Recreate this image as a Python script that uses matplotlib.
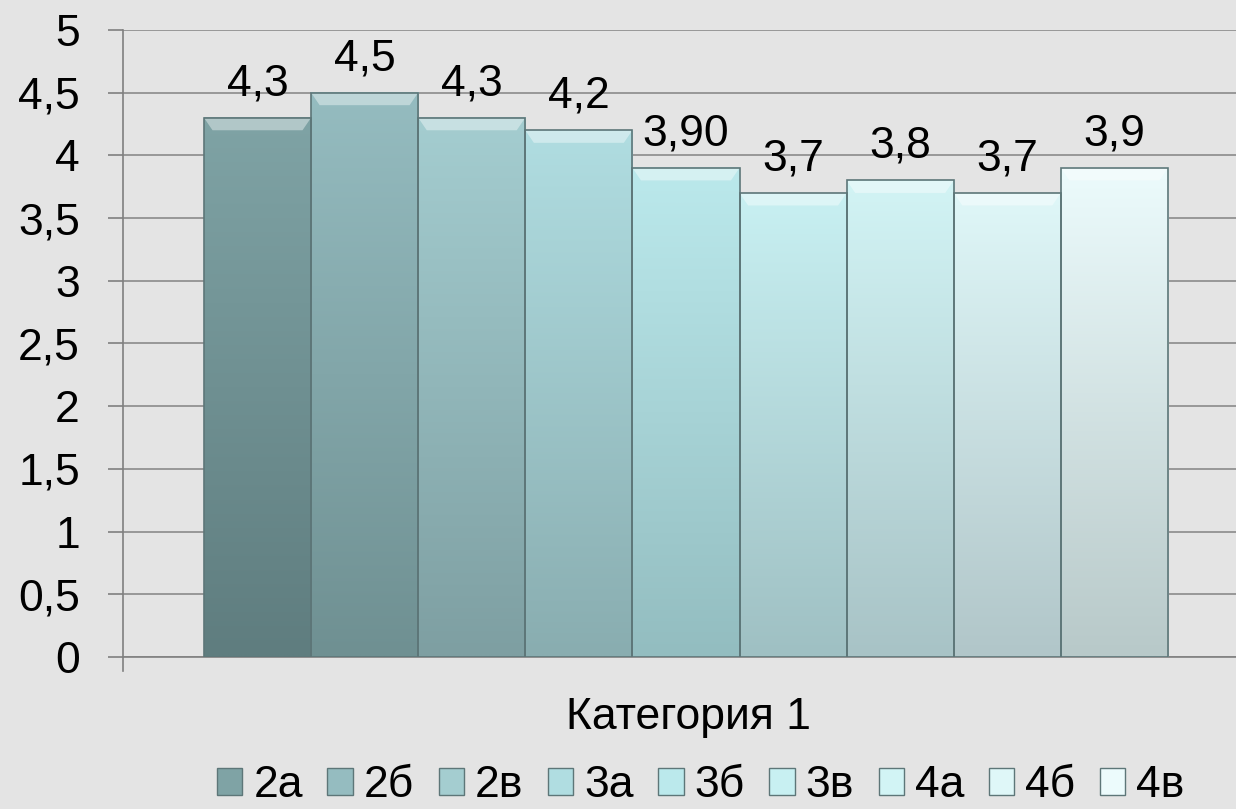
import numpy as np
import matplotlib.pyplot as plt
from matplotlib.patches import Patch
from matplotlib.colors import to_rgb

plt.rcParams['font.family'] = ['Liberation Sans', 'DejaVu Sans']

# data
classes = ['2а', '2б', '2в', '3а', '3б', '3в', '4а', '4б', '4в']
scores = [4.3, 4.5, 4.3, 4.2, 3.9, 3.7, 3.8, 3.7, 3.9]
score_labels = ['4,3', '4,5', '4,3', '4,2', '3,90', '3,7', '3,8', '3,7', '3,9']
yticks = [0, 0.5, 1, 1.5, 2, 2.5, 3, 3.5, 4, 4.5, 5]
ytick_labels = ['0', '0,5', '1', '1,5', '2', '2,5', '3', '3,5', '4', '4,5', '5']
category = 'Категория 1'

# bar colours, top and bottom of the gradient
top_cols = ['#7fa3a5', '#95bcc0', '#a4cdd0', '#b0dde1', '#bbe9ec',
            '#c8f0f2', '#d2f4f5', '#dff7f8', '#ecfbfc']
bot_cols = ['#5f7d7f', '#6f9092', '#7e9fa2', '#89adb0', '#93bdc0',
            '#9fc0c3', '#a8c3c6', '#b1c6c9', '#b8c9c9']

bg = '#e4e4e4'
fs = 32
fig = plt.figure(figsize=(12.36, 8.09), dpi=100, facecolor=bg)
ax = fig.add_axes([0.0995, 0.188, 0.9005, 0.775])
ax.set_facecolor(bg)

x = np.arange(len(classes))
for i, v in enumerate(scores):
    t = np.array(to_rgb(top_cols[i]))
    b = np.array(to_rgb(bot_cols[i]))
    f = np.linspace(0, 1, 100)[:, None]
    grad = (t * (1 - f) + b * f)[:, None, :]
    ax.imshow(grad, extent=[x[i] - 0.5, x[i] + 0.5, 0, v], aspect='auto',
              zorder=3, interpolation='bilinear')
    # light bevel at the top
    ax.fill([x[i] - 0.5, x[i] + 0.5, x[i] + 0.42, x[i] - 0.42],
            [v, v, v - 0.1, v - 0.1], color='white', alpha=0.4, lw=0, zorder=4)
    ax.bar(x[i], v, width=1.0, fill=False, edgecolor='#5d7678', lw=1.2, zorder=5)
    ax.text(x[i], v + 0.18, score_labels[i], ha='center', va='baseline',
            fontsize=fs, color='black', zorder=6)

ax.set_xlim(-1.256, 9.135)
ax.set_ylim(0, 5)
ax.set_yticks(yticks)
ax.set_yticklabels(ytick_labels, fontsize=fs)
ax.tick_params(axis='y', length=11, width=1.2, color='#808080', pad=20)
ax.set_xticks([])
ax.grid(axis='y', color='#8a8a8a', lw=1.2, zorder=1)
for s in ['top', 'right']:
    ax.spines[s].set_visible(False)
ax.spines['left'].set_color('#808080')
ax.spines['left'].set_linewidth(1.2)
ax.spines['bottom'].set_color('#808080')
ax.spines['bottom'].set_linewidth(1.2)

# category tick below the axis
ax.plot([-1.256, -1.256], [0, -0.11], color='#808080', lw=1.2, clip_on=False)

fig.text(0.557, 0.113, category, ha='center', va='center', fontsize=fs)

handles = [Patch(facecolor=top_cols[i], edgecolor='#5d7678', label=c)
           for i, c in enumerate(classes)]
fig.legend(handles=handles, loc='center', bbox_to_anchor=(0.567, 0.029), ncol=9,
           frameon=False, fontsize=fs, handlelength=0.57, handleheight=0.57,
           handletextpad=0.25, columnspacing=0.55, borderaxespad=0)

fig.savefig('out.png', dpi=100, facecolor=bg)
